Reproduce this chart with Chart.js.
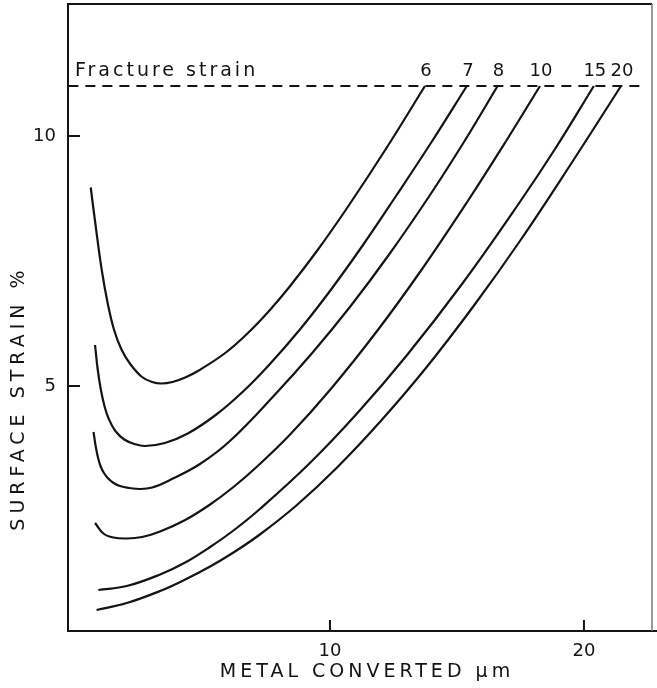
<!DOCTYPE html>
<html><head><meta charset="utf-8">
<script src="https://cdn.jsdelivr.net/npm/chart.js@4.4.1/dist/chart.umd.min.js"></script>
<style>html,body{margin:0;padding:0;background:#fff;}canvas{display:block;}</style>
</head><body>
<canvas id="c" width="657" height="688"></canvas>
<script>
// ---- data ----
const curveLabels = ['6', '7', '8', '10', '15', '20'];

const x6 = [0.58, 0.8, 1.02, 1.25, 1.5, 1.8, 2.15, 2.6, 3.0, 3.35, 3.8, 4.3, 4.8, 5.9, 6.85, 7.6, 8.4, 9.5, 10.7, 12.2, 13.74];
const y6 = [8.97, 8.1, 7.3, 6.65, 6.12, 5.72, 5.43, 5.18, 5.08, 5.05, 5.08, 5.17, 5.3, 5.67, 6.1, 6.5, 6.98, 7.71, 8.58, 9.74, 11.0];

const x7 = [0.75, 0.85, 0.97, 1.12, 1.3, 1.55, 1.9, 2.3, 2.72, 3.5, 4.4, 5.5, 6.6, 7.6, 8.8, 10.0, 11.3, 12.6, 14.0, 15.39];
const y7 = [5.82, 5.35, 4.95, 4.6, 4.33, 4.1, 3.93, 3.84, 3.8, 3.86, 4.05, 4.42, 4.9, 5.42, 6.12, 6.9, 7.82, 8.8, 9.88, 11.0];

const x8 = [0.69, 0.78, 0.88, 0.98, 1.1, 1.25, 1.45, 1.73, 2.1, 2.52, 3.0, 3.7, 4.88, 6.06, 7.8, 9.3, 10.8, 12.3, 13.9, 15.3, 16.6];
const y8 = [4.08, 3.78, 3.54, 3.38, 3.26, 3.16, 3.07, 3.0, 2.96, 2.94, 2.97, 3.12, 3.44, 3.9, 4.81, 5.66, 6.59, 7.61, 8.79, 9.9, 11.0];

const x10 = [0.75, 1.08, 1.47, 2.0, 2.6, 3.31, 4.3, 5.28, 6.2, 7.11, 8.43, 10.0, 11.84, 13.6, 15.44, 16.9, 18.27];
const y10 = [2.26, 2.05, 1.97, 1.95, 1.98, 2.09, 2.32, 2.63, 2.98, 3.38, 4.03, 4.92, 6.09, 7.32, 8.71, 9.87, 11.0];

const x15 = [0.88, 2.0, 3.31, 4.3, 5.28, 6.2, 7.24, 9.21, 11.1, 13.02, 15.2, 17.41, 18.9, 20.39];
const y15 = [0.92, 1.0, 1.23, 1.47, 1.78, 2.11, 2.54, 3.46, 4.47, 5.61, 7.04, 8.63, 9.77, 11.0];

const x20 = [0.81, 2.0, 3.31, 4.3, 5.28, 6.2, 7.24, 8.7, 10.26, 12.0, 13.81, 15.7, 17.48, 19.5, 21.46];
const y20 = [0.52, 0.66, 0.9, 1.13, 1.39, 1.67, 2.03, 2.62, 3.36, 4.3, 5.38, 6.63, 7.9, 9.45, 11.0];

const fractureStrain = 11;
const fractureX = [-0.3, 22.3];
const xTicks = [10, 20];
const yTicks = [5, 10];
const xTitle = 'METAL CONVERTED \u03bcm';
const yTitle = 'SURFACE STRAIN %';
const fractureLabel = 'Fracture strain';

// ---- build ----
const seriesX = [x6, x7, x8, x10, x15, x20];
const seriesY = [y6, y7, y8, y10, y15, y20];
const INK = '#141414';
const FONT = '"DejaVu Sans", "Liberation Sans", sans-serif';

const datasets = seriesX.map((xs, i) => ({
  label: curveLabels[i],
  data: xs.map((x, j) => ({x: x, y: seriesY[i][j]})),
  borderColor: INK,
  borderWidth: 2.2,
  pointRadius: 0,
  fill: false,
  tension: 0.4
}));
datasets.push({
  label: 'fracture',
  data: fractureX.map(x => ({x: x, y: fractureStrain})),
  borderColor: INK,
  borderWidth: 2,
  borderDash: [10, 7],
  pointRadius: 0,
  fill: false
});

const deco = {
  id: 'deco',
  afterDraw(chart) {
    const {ctx, chartArea: a, scales: {x, y}} = chart;
    ctx.save();
    // frame
    ctx.strokeStyle = INK;
    ctx.lineWidth = 2;
    ctx.beginPath();
    ctx.moveTo(a.right, a.top);
    ctx.lineTo(a.left, a.top);
    ctx.lineTo(a.left, a.bottom);
    ctx.lineTo(chart.width, a.bottom);
    ctx.stroke();
    ctx.strokeStyle = '#777';
    ctx.lineWidth = 1.5;
    ctx.beginPath();
    ctx.moveTo(a.right, a.top);
    ctx.lineTo(a.right, a.bottom);
    ctx.stroke();
    // inward tick marks
    ctx.strokeStyle = INK;
    ctx.lineWidth = 2;
    ctx.beginPath();
    yTicks.forEach(v => { const p = y.getPixelForValue(v); ctx.moveTo(a.left, p); ctx.lineTo(a.left + 12, p); });
    xTicks.forEach(v => { const p = x.getPixelForValue(v); ctx.moveTo(p, a.bottom); ctx.lineTo(p, a.bottom - 11); });
    ctx.stroke();
    // curve labels above fracture line
    ctx.fillStyle = INK;
    const yf = y.getPixelForValue(fractureStrain);
    ctx.font = '18px ' + FONT;
    ctx.textAlign = 'center';
    ctx.textBaseline = 'alphabetic';
    seriesX.forEach((xs, i) => {
      ctx.fillText(curveLabels[i], x.getPixelForValue(xs[xs.length - 1]) + 1, yf - 10);
    });
    // titles with wide lettering
    ctx.letterSpacing = '3px';
    ctx.font = '19px ' + FONT;
    ctx.textAlign = 'left';
    ctx.fillText(fractureLabel, a.left + 7, yf - 10);
    ctx.letterSpacing = '4px';
    ctx.textAlign = 'center';
    ctx.textBaseline = 'middle';
    ctx.fillText(xTitle, 367, 672);
    ctx.letterSpacing = '5px';
    ctx.translate(19, 398);
    ctx.rotate(-Math.PI / 2);
    ctx.fillText(yTitle, 0, 0);
    ctx.restore();
  }
};

new Chart(document.getElementById('c'), {
  type: 'line',
  data: {datasets: datasets},
  options: {
    responsive: false,
    animation: false,
    devicePixelRatio: 1,
    layout: {padding: {left: 0, top: 4, right: 5, bottom: 0}},
    plugins: {legend: {display: false}, tooltip: {enabled: false}},
    scales: {
      x: {
        type: 'linear',
        min: -0.315,
        max: 22.68,
        afterFit(s) { s.height = 57; s.paddingLeft = 0; s.paddingRight = 0; },
        afterBuildTicks(s) { s.ticks = xTicks.map(v => ({value: v})); },
        grid: {display: false, drawTicks: false},
        border: {display: false},
        ticks: {color: INK, padding: 10, maxRotation: 0, font: {family: FONT, size: 18}}
      },
      y: {
        type: 'linear',
        min: 0.1,
        max: 12.64,
        afterFit(s) { s.width = 68; s.paddingTop = 0; s.paddingBottom = 0; },
        afterBuildTicks(s) { s.ticks = yTicks.map(v => ({value: v})); },
        grid: {display: false, drawTicks: false},
        border: {display: false},
        ticks: {color: INK, padding: 12, font: {family: FONT, size: 18}}
      }
    }
  },
  plugins: [deco]
});
</script>
</body></html>
